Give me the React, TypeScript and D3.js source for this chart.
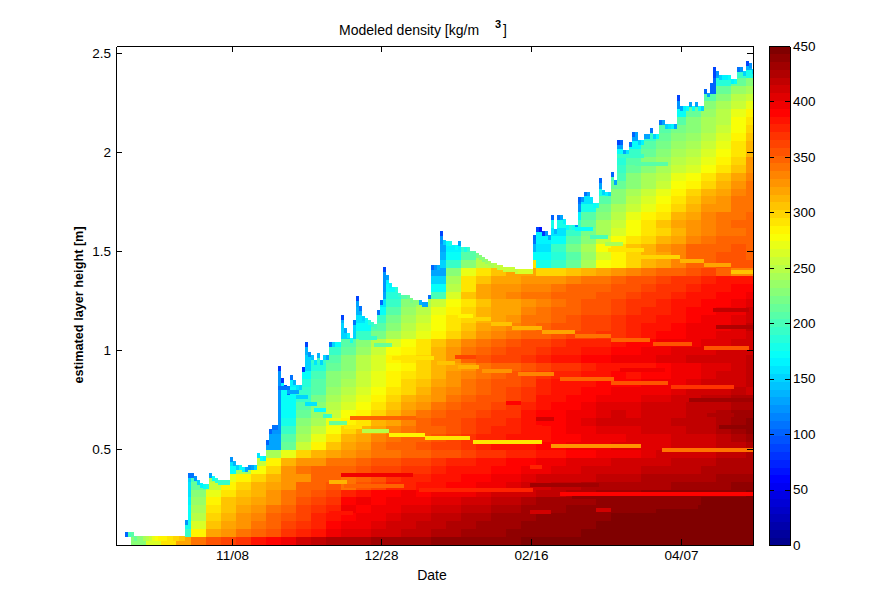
import React, { useEffect, useRef } from 'react';
import * as d3 from 'd3';

const WIDTH = 890;
const HEIGHT = 612;

const xTickDays = [38.67, 88.33, 138.33, 188.33];
const xTickLabels = ['11/08', '12/28', '02/16', '04/07'];
const yTicks = [0.5, 1, 1.5, 2, 2.5];
const colorTicks = [0, 50, 100, 150, 200, 250, 300, 350, 400, 450];

// snow surface height [m], one value per day
const surfaceHeight = [
  0, 0, 0, .08, .08, .08, .06, .06, .06, .06,
  .06, .06, .06, .06, .06, .06, .06, .06, .06, .06,
  .06, .06, .06, .14, .38, .38, .365, .345, .33, .325,
  .325, .38, .365, .355, .345, .345, .345, .345, .46, .44,
  .42, .42, .41, .41, .42, .42, .42, .48, .465, .465,
  .545, .6, .62, .62, .92, .86, .825, .8, .875, .85,
  .825, .825, .915, 1.04, .99, .975, .95, .985, .95, .975,
  .975, 1.04, 1.04, 1.04, 1.04, 1.175, 1.11, 1.085, 1.06, 1.15,
  1.27, 1.22, 1.17, 1.16, 1.15, 1.14, 1.13, 1.2, 1.25, 1.42,
  1.38, 1.34, 1.32, 1.32, 1.29, 1.28, 1.28, 1.28, 1.26, 1.25,
  1.25, 1.25, 1.24, 1.24, 1.28, 1.43, 1.43, 1.43, 1.6, 1.555,
  1.55, 1.55, 1.53, 1.53, 1.55, 1.52, 1.52, 1.52, 1.5, 1.5,
  1.49, 1.48, 1.47, 1.46, 1.45, 1.44, 1.44, 1.43, 1.43, 1.42,
  1.42, 1.42, 1.42, 1.41, 1.41, 1.41, 1.41, 1.41, 1.41, 1.58,
  1.62, 1.62, 1.6, 1.6, 1.58, 1.68, 1.61, 1.68, 1.68, 1.66,
  1.63, 1.63, 1.63, 1.63, 1.77, 1.77, 1.8, 1.8, 1.77, 1.74,
  1.74, 1.87, 1.81, 1.8, 1.8, 1.9, 1.86, 2.06, 2.06, 2.01,
  2.01, 2.05, 2.1, 2.1, 2.06, 2.06, 2.09, 2.09, 2.12, 2.09,
  2.09, 2.16, 2.16, 2.14, 2.14, 2.14, 2.14, 2.29, 2.23, 2.23,
  2.23, 2.25, 2.23, 2.25, 2.23, 2.23, 2.32, 2.3, 2.35, 2.43,
  2.41, 2.39, 2.39, 2.39, 2.39, 2.37, 2.37, 2.43, 2.43, 2.41,
  2.46, 2.45, 2.42,
];

// density of the topmost layer [kg/m3], one value per day
const surfaceDensity = [
  0, 0, 0, 100, 200, 210, 215, 225, 230, 240,
  250, 260, 270, 278, 282, 285, 288, 292, 295, 298,
  300, 303, 305, 120, 110, 110, 120, 150, 165, 175,
  180, 130, 170, 185, 190, 195, 195, 195, 120, 140,
  150, 170, 165, 130, 120, 130, 150, 160, 170, 165,
  100, 100, 110, 110, 80, 80, 90, 100, 110, 140,
  160, 150, 80, 90, 120, 145, 160, 140, 150, 150,
  130, 110, 150, 170, 170, 90, 130, 165, 180, 110,
  90, 110, 150, 175, 185, 195, 200, 110, 100, 90,
  130, 165, 175, 185, 195, 205, 210, 215, 220, 225,
  230, 140, 130, 130, 110, 100, 120, 140, 90, 150,
  170, 180, 165, 175, 130, 190, 180, 195, 205, 210,
  220, 225, 230, 235, 240, 245, 250, 250, 255, 255,
  255, 258, 260, 260, 262, 264, 265, 265, 265, 100,
  90, 70, 80, 120, 130, 100, 140, 110, 130, 165,
  175, 185, 180, 120, 100, 120, 110, 130, 155, 175,
  180, 100, 150, 165, 150, 100, 130, 90, 100, 130,
  160, 110, 100, 130, 150, 165, 130, 130, 110, 150,
  170, 110, 130, 150, 160, 165, 130, 90, 130, 165,
  170, 130, 170, 130, 175, 150, 100, 130, 100, 90,
  120, 150, 165, 165, 170, 165, 170, 110, 120, 150,
  90, 120, 150,
];

const DAYS_PER_COLUMN = 5;
const COLUMN_COUNT = 43;
const ROW_BOTTOM = 0.015;
const ROW_STEP = 0.04;

// density by height band, bottom band first; each list ends at the last column
const densityRows = [
  [225,265,290,318,342,352,362,372,382,392, 400,410,418,422,425,428,430,432,434,435, 436,438,440,440,441,442,443,444,445,446, 446,447,447,448,448,448,449,449,449,450, 450,450],
  [190,285,318,328,338,350,358,366,374,385, 395,402,405,410,414,418,420,424,426,430, 432,434,436,438,440,441,442,444,445,446, 446,447,448,448,449,449,450,450,450],
  [180,262,305,318,330,342,350,362,372,378, 388,396,400,402,408,412,416,420,424,428, 430,432,434,436,438,440,441,442,444,445, 446,446,447,447,448,448,449,449,450],
  [175,250,298,312,325,336,345,356,365,375, 385,392,396,398,402,408,412,416,420,424, 428,430,432,434,436,438,440,441,442,444, 444,445,446,446,447,447,448,448,448],
  [170,245,295,308,318,328,338,350,360,368, 378,394,392,396,398,402,405,410,412,416, 418,422,428,430,432,434,436,438,440,440, 442,442,444,444,445,445,446,446,447],
  [165,235,285,305,312,320,330,342,352,362, 372,388,394,392,395,398,400,402,405,410, 412,415,420,428,430,430,432,434,436,436, 438,440,440,442,442,444,444,446,446],
  [160,225,270,295,305,315,325,338,345,355, 362,375,385,388,390,395,393,396,398,400, 404,408,412,414,416,420,424,428,430,432, 434,436,438,440,440,440,442,442,444],
  [155,215,258,285,300,310,318,330,345,350, 355,340,355,365,375,378,382,385,388,390, 395,400,404,408,410,415,420,422,424,425, 426,426,428,430,430,432,434,436,436],
  [150,200,245,268,285,300,310,328,330,345, 350,340,350,358,368,375,378,382,385,388, 390,396,400,403,408,410,412,414,418,420, 420,422,424,425,426,428,430,430,432],
  [170,240,280,300,325,340,345,345,348,352, 360,362,366,372,378,380,382,385,390,392, 396,398,402,405,408,410,412,414,415,416, 418,420,422,424,425,426],
  [160,220,255,285,315,325,330,340,342,348, 352,356,360,365,370,375,378,380,385,388, 390,394,398,402,404,406,408,410,412,414, 416,418,420,422,424,426],
  [170,240,270,300,310,322,330,335,340,342, 345,348,352,356,362,368,372,375,378,382, 386,388,392,396,398,400,404,408,410,412, 414,416,420,424],
  [130,215,260,288,305,318,330,338,345,350, 355,360,365,372,378,380,382,385,388,392, 395,398,400,402,404,405,406,408,410,412, 416,420,425],
  [130,205,245,270,295,312,322,332,340,345, 350,355,362,370,375,378,380,382,385,390, 392,395,398,400,402,404,405,408,410,412, 416,425,430],
  [125,190,235,258,280,300,312,322,332,340, 345,350,358,365,372,375,378,380,385,390, 395,398,402,404,405,408,410,412,415,418, 422,430,438],
  [125,180,225,245,268,282,295,310,322,335, 345,352,358,362,368,372,378,385,390,392, 398,402,408,410,408,412,414,415,418,420, 425,435,440],
  [125,175,215,235,255,275,285,300,312,325, 338,345,352,358,365,368,372,380,388,390, 395,400,405,408,405,408,412,414,418,420, 425,430,430],
  [125,170,205,225,250,262,280,292,305,318, 330,340,345,352,358,362,368,375,385,388, 392,398,402,404,402,408,410,412,416,418, 420,425,425],
  [125,170,195,220,240,255,270,285,298,310, 322,330,340,345,352,358,365,372,382,385, 388,392,398,400,398,402,405,408,412,415, 418,425,425],
  [125,170,190,210,235,250,262,278,292,302, 312,325,335,340,348,355,362,368,378,382, 385,390,392,396,395,398,400,402,408,410, 412,415,410],
  [125,165,185,210,225,245,258,272,288,298, 308,320,330,338,345,352,358,365,375,380, 382,385,388,392,390,394,396,400,404,408, 410,414,416],
  [125,165,170,200,225,238,255,268,282,292, 302,315,325,335,342,350,355,362,370,375, 378,382,385,388,386,390,392,398,400,404, 408,412,415],
  [125,160,150,185,215,230,250,262,275,288, 298,310,320,330,340,345,350,358,362,370, 372,376,380,385,382,386,390,394,398,402, 405,410,415],
  [150,190,205,225,250,265,285,290,300,315, 330,345,355,360,365,370,375,380,385,388, 390,395,398,400,404,406,408,410,412,414, 415],
  [140,170,190,215,238,258,275,285,295,310, 325,340,348,355,360,365,370,375,378,385, 382,388,392,396,398,402,404,406,408,410, 414],
  [130,160,170,205,228,250,265,278,290,305, 320,335,340,350,355,360,365,372,376,375, 378,385,388,392,395,400,400,402,405,408, 414],
  [150,190,220,242,258,272,285,298,312,325, 332,340,345,350,355,360,365,368,372,378, 382,388,392,396,398,402,406,412],
  [150,170,205,232,250,265,280,295,308,320, 325,335,342,348,352,358,365,365,372,378, 380,386,390,394,396,400,405,415],
  [140,155,190,222,242,258,275,290,302,315, 320,330,338,342,348,355,360,362,370,375, 378,382,386,390,394,398,402,412],
  [140,175,210,235,250,268,285,298,310,318, 322,332,338,345,350,358,358,365,370,374, 378,384,388,390,395,400,408],
  [130,160,195,225,242,258,280,295,305,318, 318,328,335,342,348,352,355,362,366,372, 375,380,385,388,392,396,402],
  [130,185,215,235,200,265,305,320,330,335, 338,338,345,350,350,352,358,362,368,372, 378,382,386,390,392,398],
  [125,175,200,222,170,250,295,318,325,330, 335,335,340,345,345,348,352,358,362,368, 372,376,380,384,390,392],
  [120,165,190,215,150,240,290,305,318,322, 325,325,330,335,340,342,348,352,358,362, 368,372,375,380,384,385],
  [120,150,175,205,130,225,270,295,308,318, 320,300,300,308,310,318,325,332,340,345, 350,355,360,345,335,335],
  [150,190,225,250,270,275,290,180,195,215, 245,275,285,300,310,320,335,345,350,352, 352,355],
  [140,175,210,240,250,255,170,170,185,205, 235,265,285,300,310,322,335,345,350,352, 355,350],
  [130,165,190,215,225,240,140,160,190,220, 245,275,290,305,315,325,335,345,348,350, 352,350],
  [120,150,175,205,220,235,110,165,175,205, 230,258,275,290,300,310,322,335,340,345, 345,348],
  [110,130,150,190,210,225,110,165,160,195, 220,245,265,280,292,302,315,325,335,340, 342,345],
  [130,180,190,215,240,260,275,290,305,320, 330,335,340,345,345],
  [125,165,205,232,250,268,282,295,310,322, 332,338,342,345],
  [120,180,222,240,258,272,288,300,312,325, 330,340,342],
  [110,160,205,232,250,265,280,292,305,318, 325,338,340],
  [130,180,225,240,255,270,285,298,310,320, 335,342],
  [130,215,232,245,260,275,288,300,312,325, 340],
  [100,200,225,240,252,268,280,295,308,320, 335],
  [195,215,232,245,255,265,278,290,305,330],
  [185,205,225,238,250,258,270,285,300,325],
  [170,195,215,230,242,252,262,278,295,312],
  [130,175,205,222,235,245,255,270,290,310],
  [130,190,215,228,238,250,262,285,305],
  [130,205,222,232,245,258,280,300],
  [130,210,225,240,252,275,295],
  [170,215,235,248,268,285],
  [120,205,225,240,260,270],
  [90,110,210,230,250,260],
  [100,215,235,240],
  [100,185,215,225],
  [90,130,190,180],
  [80,100,110,140],
  [100],
];

// thin buried layers: first day, last day, height [m], density
const thinLayers = [
  [199, 210, 1.202, 418], [200, 212, 1.116, 422], [168, 182, .899, 395], [191, 212, .747, 432], [201, 212, .611, 442],
  [197, 205, .672, 425], [149, 153, .712, 388], [138, 141, .611, 380], [138, 141, .409, 375], [138, 160, .318, 432],
  [152, 193, .258, 440], [152, 193, .207, 440], [138, 144, .182, 408], [160, 164, .192, 412], [75, 98, .369, 395],
  [71, 78, .177, 382], [78, 99, .657, 345], [105, 109, .773, 330], [115, 119, .758, 345], [130, 134, .732, 388],
  [140, 145, .652, 408], [113, 119, .965, 365],
  [71, 76, .333, 310], [76, 95, .313, 345], [101, 138, .293, 378], [148, 212, .273, 392],
  [54, 57, .808, 110], [57, 60, .788, 130], [60, 63, .763, 150], [63, 66, .727, 160], [66, 69, .697, 170], [69, 71, .667, 190],
  [71, 76, .631, 215], [76, 81, .611, 290], [82, 90, .591, 250], [91, 102, .571, 285], [103, 117, .556, 290], [119, 141, .535, 295], [145, 174, .515, 325], [182, 212, .495, 340],
  [81, 86, 1.06, 190], [86, 91, 1.025, 215], [92, 105, .96, 290], [107, 112, .934, 305], [114, 120, .914, 310], [122, 131, .894, 325], [134, 145, .879, 335], [148, 165, .854, 345], [165, 183, .833, 355], [185, 205, .813, 370],
  [114, 118, 1.172, 285], [119, 124, 1.157, 300], [125, 131, 1.131, 305], [132, 141, 1.111, 315], [142, 152, 1.091, 320], [153, 164, 1.071, 340], [165, 177, 1.051, 345], [179, 191, 1.03, 355], [196, 210, 1.01, 355],
  [153, 158, 1.61, 170], [158, 163, 1.57, 200], [163, 168, 1.535, 240], [164, 175, 1.505, 290], [175, 187, 1.47, 300], [188, 195, 1.45, 315], [196, 204, 1.43, 320], [205, 212, 1.395, 305],
  [167, 175, 1.98, 190], [173, 183, 1.94, 210],
];

const ModeledDensity: React.FC = () => {
  const svgRef = useRef<SVGSVGElement | null>(null);

  useEffect(() => {
    if (!svgRef.current) return;

    const margin = { top: 46, right: 137, bottom: 67, left: 116 };
    const right = WIDTH - margin.right;
    const bottom = HEIGHT - margin.bottom;

    const xScale = d3.scaleLinear().domain([0, 212.33]).range([margin.left, right]);
    const yScale = d3.scaleLinear().domain([0.015, 2.535]).range([bottom, margin.top]);

    // 64 step jet colormap
    const jet = d3
      .scaleLinear<string>()
      .domain([0, 0.125, 0.375, 0.625, 0.875, 1])
      .range(['#00008f', '#0000ff', '#00ffff', '#ffff00', '#ff0000', '#800000']);
    const jetColors = d3.range(64).map((i) => d3.color(jet(i / 63))!.formatHex());
    const color = d3.scaleQuantize<string>().domain([0, 450]).range(jetColors);

    const svg = d3.select(svgRef.current);
    svg.selectAll('*').remove();

    const chart = svg.append('g').attr('shape-rendering', 'crispEdges');

    // Draw the density cells, one column per day, cut at the snow surface
    surfaceHeight.forEach((top, day) => {
      if (top <= 0) return;
      const column = Math.floor(day / DAYS_PER_COLUMN);
      const x0 = xScale(day);
      const x1 = Math.min(xScale(day + 1), right);
      densityRows.forEach((row, i) => {
        const low = ROW_BOTTOM + i * ROW_STEP;
        if (low >= top) return;
        const value = row[column - (COLUMN_COUNT - row.length)];
        if (value === undefined) return;
        const high = Math.min(low + ROW_STEP, top);
        chart
          .append('rect')
          .attr('x', x0)
          .attr('y', yScale(high))
          .attr('width', x1 - x0)
          .attr('height', yScale(low) - yScale(high))
          .attr('fill', color(value));
      });
      const rimLow = Math.max(top - 0.025, ROW_BOTTOM);
      chart
        .append('rect')
        .attr('x', x0)
        .attr('y', yScale(top))
        .attr('width', x1 - x0)
        .attr('height', yScale(rimLow) - yScale(top))
        .attr('fill', color(surfaceDensity[day]));
    });

    chart
      .selectAll('rect.layer')
      .data(thinLayers)
      .enter()
      .append('rect')
      .attr('class', 'layer')
      .attr('x', (d) => xScale(d[0]))
      .attr('y', (d) => yScale(d[2] + 0.01))
      .attr('width', (d) => Math.min(xScale(d[1] + 1), right) - xScale(d[0]))
      .attr('height', yScale(0) - yScale(0.02))
      .attr('fill', (d) => color(d[3]));

    const styleAxis = (g: d3.Selection<SVGGElement, unknown, null, undefined>) => {
      g.attr('font-family', '"Liberation Sans", Arial, sans-serif').attr('font-size', 13.5);
      g.selectAll('text').attr('fill', '#000');
      g.selectAll('line, path').attr('stroke', '#000').attr('shape-rendering', 'crispEdges');
    };

    // Axes with inward ticks on all four sides
    svg
      .append('g')
      .attr('transform', `translate(${margin.left},0)`)
      .call(d3.axisLeft(yScale).tickValues(yTicks).tickFormat((d) => String(d)).tickSizeInner(-6).tickSizeOuter(0).tickPadding(5))
      .call(styleAxis);
    svg
      .append('g')
      .attr('transform', `translate(${right},0)`)
      .call(d3.axisRight(yScale).tickValues(yTicks).tickFormat(() => '').tickSizeInner(-6).tickSizeOuter(0))
      .call(styleAxis);
    svg
      .append('g')
      .attr('transform', `translate(0,${bottom})`)
      .call(d3.axisBottom(xScale).tickValues(xTickDays).tickFormat((_, i) => xTickLabels[i]).tickSizeInner(-6).tickSizeOuter(0).tickPadding(5))
      .call(styleAxis);
    svg
      .append('g')
      .attr('transform', `translate(0,${margin.top})`)
      .call(d3.axisTop(xScale).tickValues(xTickDays).tickFormat(() => '').tickSizeInner(-6).tickSizeOuter(0))
      .call(styleAxis);

    // Colorbar
    const barLeft = 769;
    const barRight = 790;
    const barScale = d3.scaleLinear().domain([0, 450]).range([bottom, margin.top]);
    svg
      .append('g')
      .attr('shape-rendering', 'crispEdges')
      .selectAll('rect')
      .data(jetColors)
      .enter()
      .append('rect')
      .attr('x', barLeft)
      .attr('y', (_, i) => barScale(((i + 1) * 450) / 64))
      .attr('width', barRight - barLeft)
      .attr('height', (bottom - margin.top) / 64 + 0.5)
      .attr('fill', (d) => d);
    svg
      .append('g')
      .attr('transform', `translate(${barRight},0)`)
      .call(d3.axisRight(barScale).tickValues(colorTicks).tickSizeInner(-5).tickSizeOuter(0).tickPadding(3))
      .call(styleAxis);
    svg
      .append('g')
      .attr('transform', `translate(${barLeft},0)`)
      .call(d3.axisLeft(barScale).tickValues(colorTicks).tickFormat(() => '').tickSizeInner(-5).tickSizeOuter(0))
      .call(styleAxis);
    svg
      .append('line')
      .attr('x1', barLeft)
      .attr('x2', barRight)
      .attr('y1', margin.top + 0.5)
      .attr('y2', margin.top + 0.5)
      .attr('stroke', '#000')
      .attr('shape-rendering', 'crispEdges');
    svg
      .append('line')
      .attr('x1', barLeft)
      .attr('x2', barRight)
      .attr('y1', bottom + 0.5)
      .attr('y2', bottom + 0.5)
      .attr('stroke', '#000')
      .attr('shape-rendering', 'crispEdges');

    // Titles
    const label = (text: string, x: number, y: number) =>
      svg
        .append('text')
        .attr('x', x)
        .attr('y', y)
        .attr('font-family', '"Liberation Sans", Arial, sans-serif')
        .attr('font-size', 14)
        .attr('fill', '#000')
        .text(text);

    label('Modeled density [kg/m', 339, 35);
    label('3', 495, 28).attr('font-weight', 'bold').attr('font-size', 11);
    label(']', 503, 35);
    label('Date', 432, 580).attr('text-anchor', 'middle');
    label('estimated layer height [m]', 0, 0)
      .attr('x', null)
      .attr('y', null)
      .attr('transform', 'translate(83,305) rotate(-90)')
      .attr('text-anchor', 'middle')
      .attr('font-weight', 'bold')
      .attr('font-size', 12.7);
  }, []);

  return (
    <svg
      ref={svgRef}
      width={WIDTH}
      height={HEIGHT}
      style={{ position: 'absolute', left: 0, top: 0, display: 'block', background: '#fff' }}
    />
  );
};

export default function App() {
  return <ModeledDensity />;
}
